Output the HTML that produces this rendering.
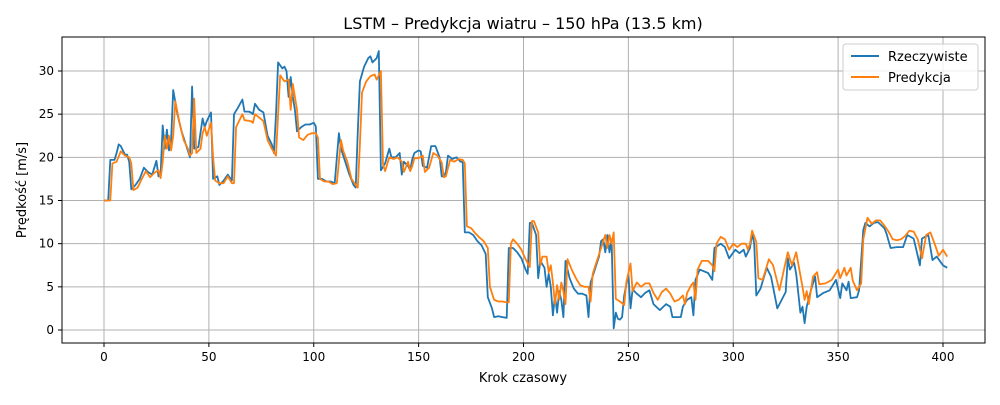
<!DOCTYPE html>
<html><head><meta charset="utf-8"><style>
body{margin:0;background:#fff;font-family:"Liberation Sans","DejaVu Sans",sans-serif}
svg text{font-family:"DejaVu Sans","Liberation Sans",sans-serif}
</style></head><body>
<svg id="chart" width="1000" height="400" xmlns="http://www.w3.org/2000/svg">
<rect width="1000" height="400" fill="#fff"/>
<text x="523" y="29" font-size="16" text-anchor="middle">LSTM – Predykcja wiatru – 150 hPa (13.5 km)</text>
<g id="grid"></g><g id="ticks"></g><g id="lines"></g>
<rect x="62" y="37" width="923" height="306" fill="none" stroke="#000" stroke-width="1"/>
<text x="523" y="382" font-size="13" text-anchor="middle">Krok czasowy</text>
<text transform="translate(26,190) rotate(-90)" font-size="13" text-anchor="middle">Prędkość [m/s]</text>
<g>
<rect x="843" y="44" width="135" height="46" rx="3" fill="#fff" fill-opacity="0.8" stroke="#ccc"/>
<line x1="851" y1="56" x2="879" y2="56" stroke="#1f77b4" stroke-width="2"/>
<text x="888" y="61" font-size="13">Rzeczywiste</text>
<line x1="851" y1="77" x2="879" y2="77" stroke="#ff7f0e" stroke-width="2"/>
<text x="888" y="82" font-size="13">Predykcja</text>
</g>
</svg>
<script>
const xTicks=[0,50,100,150,200,250,300,350,400];
const yTicks=[0,5,10,15,20,25,30];
const actualSteps=[0,2,3,5,6,7,8,10,11,12,13,15,17,19,21,23,25,26,27,28,29,30,31,32,33,35,37,39,41,42,43,45,47,48,49,51,52,54,55,57,59,61,62,64,66,67,69,70,71,72,74,76,78,80,81,82,83,85,86,87,88,89,90,91,92,94,96,98,100,101,102,104,106,108,110,112,113,115,117,119,120,121,122,124,126,127,128,130,131,132,134,136,137,139,141,142,143,145,146,147,148,150,151,152,154,156,158,160,161,162,163,164,166,168,170,171,172,174,176,178,180,182,183,185,186,188,190,192,193,195,197,199,201,202,203,204,206,207,208,210,211,212,213,214,215,216,217,218,219,220,222,224,226,228,230,231,232,234,236,237,238,239,240,241,242,243,244,245,246,247,248,250,251,252,254,256,258,260,262,265,268,270,271,275,276,278,280,281,282,284,288,290,291,294,296,298,301,303,305,306,308,309,310,311,313,316,318,321,325,326,327,329,330,332,333,334,335,337,338,339,340,343,346,349,351,352,354,355,356,359,360,362,363,365,367,369,372,373,375,378,381,383,386,387,389,390,393,395,397,400,402];
const actualValues=[15,15,19.7,19.7,20.5,21.5,21.3,20.3,20.3,19.5,16.3,16.8,17.5,18.8,18.3,18,19.6,17.8,18,23.7,21,23.2,20.8,22,27.8,25,23,21.5,20,28.2,21,21.2,24.5,23.5,24.2,25.2,17.5,17.8,16.8,17.3,18,17.3,25,25.8,26.7,25.3,25.3,25.2,25,26.2,25.5,25.2,22.5,21.5,20.5,25,31,30.3,30.5,30,27,29.3,27,25.5,23,23.5,23.8,23.8,24,23.6,17.5,17.5,17.2,17.2,17,22.8,21,19.5,18,16.8,16.5,23,28.8,30.5,31.5,31.7,31,31.5,32.3,18.5,19.3,21,20,20,20.5,18,19.5,19,18.5,19.8,20.5,20.8,20.7,19,18.8,21.3,21.3,20,17.8,17.8,18.3,20.2,19.8,20,19.5,19.5,11.3,11.3,11,10.3,9.8,8.8,3.8,2.5,1.5,1.6,1.5,1.4,9.5,9.5,9,8.3,7,6.5,12.4,12.4,11,6,8,7.2,5,6.5,5,1.7,4,2,4.5,3.5,1.5,8,6,4.8,4.2,4.2,4,1.5,5.5,7,8.5,10.3,10.5,9,11,9,10.5,0.2,2,1.3,1.2,1.5,4,6.5,2.5,4.7,4.2,3.8,4.3,4.6,3,2.3,3,2.7,1.5,1.5,2.7,3.5,3.8,1.7,5.8,7,6.6,5.8,9.5,10,9.6,8.3,9.3,8.9,9.3,8.5,9.5,11.2,10,4,4.8,7.2,6.2,2.5,4.4,8.3,7,7.8,6.5,2,2.7,0.8,2.7,4.6,5.4,6.2,3.8,4.3,4.6,5.8,3.7,5.4,4.6,5.6,3.7,3.8,4.6,11.6,12.4,12,12.4,12.5,11.8,11.2,9.5,9.6,9.6,11,10.6,9.6,7.5,10.6,11,8.1,8.5,7.5,7.2];
const predSteps=[0,2,3,4,6,8,10,12,13,14,16,18,20,22,24,26,27,28,29,30,31,32,33,34,36,38,40,41,42,43,44,46,47,48,49,51,52,53,55,57,59,61,62,63,65,66,67,70,71,72,74,76,78,80,82,83,84,86,88,89,90,92,93,95,97,99,101,102,103,105,107,109,111,113,114,116,118,120,121,122,123,125,127,129,130,131,132,133,134,136,138,140,142,143,145,146,147,148,150,152,153,155,157,159,161,162,163,165,167,169,171,172,173,175,177,179,181,183,184,186,188,190,192,193,194,195,197,199,201,203,204,205,207,208,209,211,212,213,214,215,216,217,218,219,220,221,223,225,227,229,231,232,233,235,237,238,239,240,241,242,243,244,246,248,249,251,252,254,256,258,260,262,264,266,268,270,272,274,276,277,278,280,281,282,283,285,288,290,291,292,294,296,298,300,302,304,306,307,308,309,311,312,314,317,319,322,326,328,330,333,334,335,336,338,340,341,344,347,350,351,353,354,356,357,359,361,362,364,366,368,370,372,374,376,378,380,382,384,386,388,390,392,394,396,398,400,402];
const predValues=[15,15,15,19.3,19.5,20.7,20.2,20,19.3,16.2,16.5,17.5,18.4,17.7,18.2,18.5,17.6,19.5,22.5,21,22.5,20.8,22.5,26.5,24,22,21,20.2,20.5,26.8,20.5,21,22.8,23.5,22.5,24,20,17.3,17,17,17.8,17,17,23.5,24.5,25,24.3,24.2,24,25,24.6,24.2,22,21,20.2,25,29.5,28.8,29,25.5,28.5,25.5,22.3,22,22.6,22.8,22.8,22.3,17.5,17.2,17.2,16.9,17,22,20.8,19.5,17.5,16.8,16.5,21.5,27.5,28.8,29.4,29.6,29,29.5,30,19.2,18.4,20,19.8,20,19.5,18.3,19.5,18.4,19,19.9,19.9,20.2,18.3,18.8,20.5,20.2,19.4,17.7,17.8,19.7,19.5,19.8,19.7,19.3,12,11.8,11.2,10.7,10.3,9.5,5,3.5,3.3,3.3,3.2,3.2,10,10.5,10,9.3,8.2,7.3,12.6,12.6,11.3,7.5,8.5,8.5,6.7,7.5,5.5,3,5.2,3.5,5.5,4.5,3,8.2,7,6,5.2,5,5,3.3,6.5,8,9.5,10.3,11,9.5,11,10,11.3,3.6,3.3,2.9,5.5,7.7,4.5,5.5,5,5.4,5.4,4.3,3.5,4.4,4.8,4.2,3.3,3.5,4,3,4.3,5.2,5.5,3.5,7,8,8,7.5,6.8,10,10.8,10.5,9.3,10,9.6,10,10,9.3,10,11.5,10.2,6,5.8,8.2,7.5,4.6,9,7.5,9,5,3.5,4.5,3,6.2,6.7,5.3,5.4,5.8,7,6,7.2,6.3,7.2,5.7,4.6,5.4,10.5,13,12.3,12.7,12.7,12.1,11.4,10.5,10.4,10.5,10.9,11.5,11.4,10.5,8.3,11,11.3,10,8.6,9.3,8.5];
const NS='http://www.w3.org/2000/svg';
const L=62,R=985,T=37,B=343;
function xs(v){return 104+v*(943-104)/400;}
function ys(v){return 330-v*(330-71)/30;}
const grid=document.getElementById('grid'),ticks=document.getElementById('ticks'),lines=document.getElementById('lines');
function mk(tag,attrs,parent){const e=document.createElementNS(NS,tag);for(const k in attrs)e.setAttribute(k,attrs[k]);parent.appendChild(e);return e;}
xTicks.forEach(t=>{const x=xs(t);
 const g=mk('line',{x1:x,x2:x,y1:T,y2:B,stroke:'#b0b0b0','stroke-width':1},grid);
 
 
 mk('line',{x1:x,x2:x,y1:B,y2:B+4,stroke:'#000'},ticks);
 const tx=mk('text',{x:x,y:B+18,'font-size':12,'text-anchor':'middle'},ticks);tx.textContent=t;
 
 });
yTicks.forEach(t=>{const y=ys(t);
 const g=mk('line',{x1:L,x2:R,y1:y,y2:y,stroke:'#b0b0b0','stroke-width':1},grid);
 
 
 mk('line',{x1:L-4,x2:L,y1:y,y2:y,stroke:'#000'},ticks);
 const tx=mk('text',{x:L-8,y:y+4,'font-size':12,'text-anchor':'end'},ticks);tx.textContent=t;
 
 });
function draw(steps,vals,color,name){
 const d=steps.map((s,i)=>(i?'L':'M')+xs(s).toFixed(1)+','+ys(vals[i]).toFixed(1)).join('');
 const p=mk('path',{d:d,fill:'none',stroke:color,'stroke-width':1.8,'stroke-linejoin':'round'},lines);
 
 }
draw(actualSteps,actualValues,'#1f77b4','actual-series-line');
draw(predSteps,predValues,'#ff7f0e','prediction-series-line');
</script>
</body></html>
